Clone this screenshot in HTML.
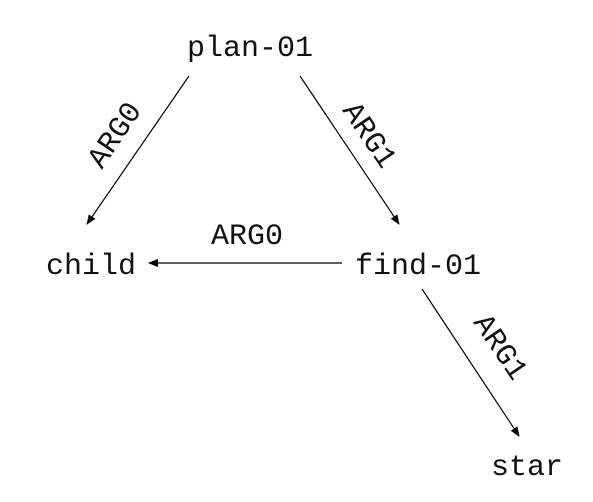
<!DOCTYPE html>
<html><head><style>body{margin:0;background:#fff}svg{display:block}text{font-family:"Liberation Mono",monospace;font-size:30px;fill:#111}</style></head><body>
<svg width="593" height="502" viewBox="0 0 593 502">
<defs><marker id="a" markerWidth="10" markerHeight="8" refX="9" refY="4" orient="auto" markerUnits="userSpaceOnUse"><path d="M0,0 L10,4 L0,8 z" fill="#000"/></marker></defs>
<g stroke="#000" stroke-width="1.2">
<line x1="189" y1="76" x2="87" y2="224" marker-end="url(#a)"/>
<line x1="300" y1="76" x2="399" y2="224" marker-end="url(#a)"/>
<line x1="342" y1="263" x2="149" y2="263" marker-end="url(#a)"/>
<line x1="422" y1="289" x2="519" y2="436" marker-end="url(#a)"/>
</g>
<text x="250" y="56" text-anchor="middle" fill="#0a0a4a">plan-01</text>
<text x="91" y="274" text-anchor="middle">child</text>
<text x="418" y="274" text-anchor="middle">find-01</text>
<text x="527" y="475" text-anchor="middle">star</text>
<text x="247" y="244" text-anchor="middle">ARG0</text>
<text transform="translate(122,140) rotate(-56)" text-anchor="middle">ARG0</text>
<text transform="translate(362,140) rotate(56)" text-anchor="middle">ARG1</text>
<text transform="translate(493,352) rotate(56)" text-anchor="middle">ARG1</text>
</svg>
</body></html>
